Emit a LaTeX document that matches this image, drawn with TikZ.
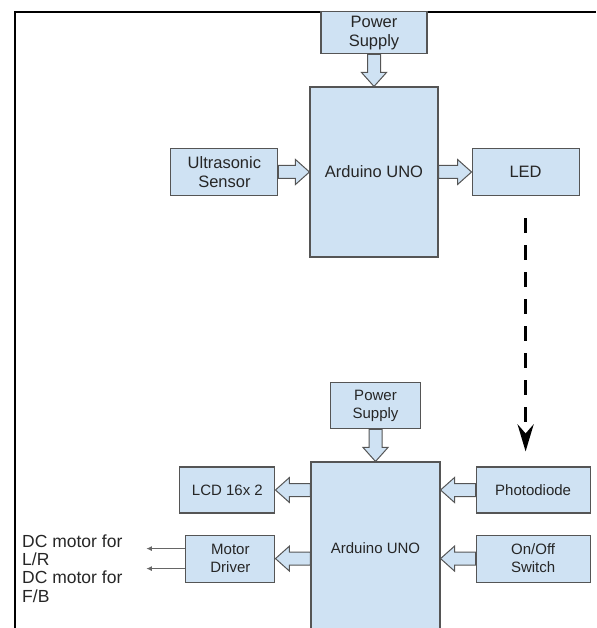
\documentclass[tikz,border=0pt]{standalone}
\usepackage{fontspec}
\setmainfont{Liberation Sans}
\usepackage{tikz}
\usetikzlibrary{positioning, calc, arrows.meta}

\definecolor{boxblue}{RGB}{207,226,243}
\definecolor{boxline}{RGB}{85,85,85}

% hollow block arrow between two points
\newcommand{\fatarrow}[2]{%
  \path (#1) coordinate (fa-s) (#2) coordinate (fa-e);
  \coordinate (fa-h) at ($(fa-e)!14pt!(fa-s)$);
  \draw[fat] ($(fa-s)!6.5pt!90:(fa-e)$) -- ($(fa-h)!6.5pt!-90:(fa-s)$)
    -- ($(fa-h)!12.5pt!-90:(fa-s)$) -- (fa-e) -- ($(fa-h)!12.5pt!90:(fa-s)$)
    -- ($(fa-h)!6.5pt!90:(fa-s)$) -- ($(fa-s)!6.5pt!-90:(fa-e)$) -- cycle;}

\begin{document}
\begin{tikzpicture}[x=1pt,y=1pt,node distance=32pt]
                \tikzstyle{block}=[draw=boxline,fill=boxblue,line width=1.1pt,text=black!85,align=center,inner sep=2pt,font=\fontsize{16.5}{19}\selectfont]
                \tikzstyle{small block}=[block,font=\fontsize{15}{18}\selectfont]
                \tikzstyle{fat}=[draw=boxline,fill=boxblue,line width=1pt,line join=miter]
                \tikzstyle{dash arrow}=[line width=3.5pt,dash pattern=on 15pt off 12pt,-{Stealth[length=27pt,width=16pt,inset=9pt]}]
                \tikzstyle{wire}=[draw=black!60,line width=1pt,-{Latex[length=5.5pt,width=5pt]}]
                \tikzstyle{dc label}=[anchor=north west,align=left,inner sep=0pt,text=black!85,font=\fontsize{17.5}{18.5}\selectfont]

                \useasboundingbox (0,0) rectangle (596,-628);
                \clip (0,0) rectangle (596,-628);
                \draw[line width=2.5pt] (15,-628) -- (15,-12) -- (596,-12);

                % upper diagram
                \node[block, minimum width=128pt, minimum height=170pt] (uno1) at (374,-172) {Arduino UNO};
                \node[block, minimum width=106pt, minimum height=42pt]  (power1)[above=32pt of uno1] {Power\\Supply};
                \node[block, minimum width=107pt, minimum height=47pt]  (sensor)[left=31pt of uno1]  {Ultrasonic\\Sensor};
                \node[block, minimum width=107pt, minimum height=47pt]  (led)[right=33pt of uno1]    {LED};

                \fatarrow{power1.south}{uno1.north}
                \fatarrow{sensor.east}{uno1.west |- sensor.east}
                \fatarrow{uno1.east |- led.west}{led.west}

                % lower diagram
                \node[small block, minimum width=129pt, minimum height=172pt] (uno2) at (375.5,-548) {Arduino UNO};
                \node[small block, minimum width=90pt, minimum height=46pt]  (power2)[above=32pt of uno2] {Power\\Supply};
                \node[small block, minimum width=95pt, minimum height=46pt]  (lcd)[below left=5pt and 35pt of uno2.north west] {LCD 16x 2};
                \node[small block, minimum width=89pt, minimum height=47pt]  (motor)[below=21pt of lcd.south east, anchor=north east] {Motor\\Driver};
                \node[small block, minimum width=114pt, minimum height=46pt] (photo)[below right=5pt and 35pt of uno2.north east] {Photodiode};
                \node[small block, minimum width=114pt, minimum height=47pt] (switch)[below=21pt of photo] {On/Off\\Switch};

                \draw[dash arrow] ([yshift=-22pt]led.south) -- ([yshift=15pt]led.south |- photo.north);

                \fatarrow{power2.south}{power2.south |- uno2.north}
                \fatarrow{uno2.west |- lcd.east}{lcd.east}
                \fatarrow{uno2.west |- motor.east}{motor.east}
                \fatarrow{photo.west}{uno2.east |- photo.west}
                \fatarrow{switch.west}{uno2.east |- switch.west}

                \coordinate (toLR) at ([xshift=-39pt,yshift=10pt]motor.west);
                \coordinate (toFB) at ([xshift=-39pt,yshift=-10pt]motor.west);
                \draw[wire] ([yshift=10pt]motor.west) -- (toLR);
                \draw[wire] ([yshift=-10pt]motor.west) -- (toFB);

                \node[dc label] (dcLR) at (22,-534.5) {DC motor for\\L/R};
                \node[dc label] (dcFB) at (22,-570.7) {DC motor for\\F/B};
            \end{tikzpicture}
\end{document}
